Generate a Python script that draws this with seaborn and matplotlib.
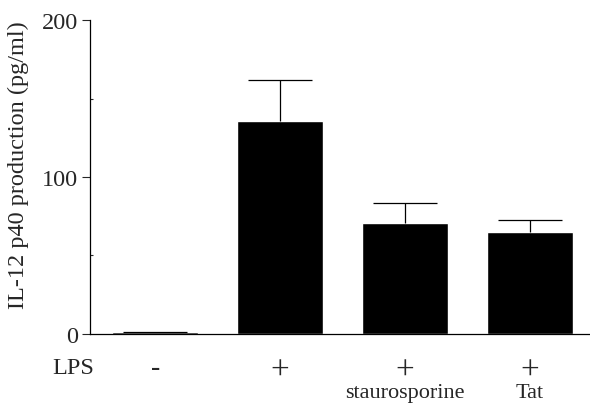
import pandas as pd
import matplotlib
matplotlib.use("Agg")
import matplotlib.pyplot as plt
import seaborn as sns

# values
conditions = ["control", "LPS", "LPS + staurosporine", "LPS + Tat"]
lps_marks = ["-", "+", "+", "+"]
sub_labels = ["", "", "staurosporine", "Tat"]
il12_mean = [1, 136, 71, 65]
il12_err = [0, 26, 12.5, 7.5]

df = pd.DataFrame({"condition": conditions, "il12": il12_mean})

sns.set_style("white")
plt.rcParams["font.family"] = ["Liberation Serif", "DejaVu Serif"]

fig = plt.figure(figsize=(5.9, 4.06), dpi=100)
ax = fig.add_axes([0.153, 0.175, 0.847, 0.773])

sns.barplot(data=df, x="condition", y="il12", color="black", width=0.69,
            errorbar=None, ax=ax, saturation=1)
_, caps, _ = ax.errorbar(range(len(conditions)), il12_mean,
                         yerr=[[0] * len(il12_err), il12_err],
                         fmt="none", ecolor="black", elinewidth=0.9,
                         capsize=23, capthick=0.9)
caps[0].set_visible(False)  # only the upper cap

ax.set_ylim(0, 200)
ax.set_xlim(-0.52, 3.48)
ax.set_yticks([0, 100, 200])
ax.set_yticks([50, 150], minor=True)
ax.tick_params(axis="y", which="major", direction="out", length=6, width=0.8,
               labelsize=17.5, left=True, pad=3)
ax.tick_params(axis="y", which="minor", direction="in", length=2, width=0.8, left=True)
ax.set_xticks(range(len(conditions)))
ax.set_xticklabels(lps_marks)
for t in ax.get_xticklabels():
    t.set_fontsize(20 if t.get_text() == "-" else 24)
ax.tick_params(axis="x", length=0, pad=15)

ax.set_xlabel("")
ax.set_ylabel("IL-12 p40 production (pg/ml)", fontsize=17.5)
ax.yaxis.set_label_coords(-0.122, 0.54)

sns.despine(ax=ax)
for side in ["left", "bottom"]:
    ax.spines[side].set_color("black")
    ax.spines[side].set_linewidth(0.9)

ax.text(-0.034, -0.108, "LPS", transform=ax.transAxes, fontsize=17.5,
        ha="center", va="center")
for i, lab in enumerate(sub_labels):
    if lab:
        ax.text(i, -0.2, lab, transform=ax.get_xaxis_transform(),
                fontsize=16, ha="center", va="baseline")

fig.savefig("out.png", dpi=100)
